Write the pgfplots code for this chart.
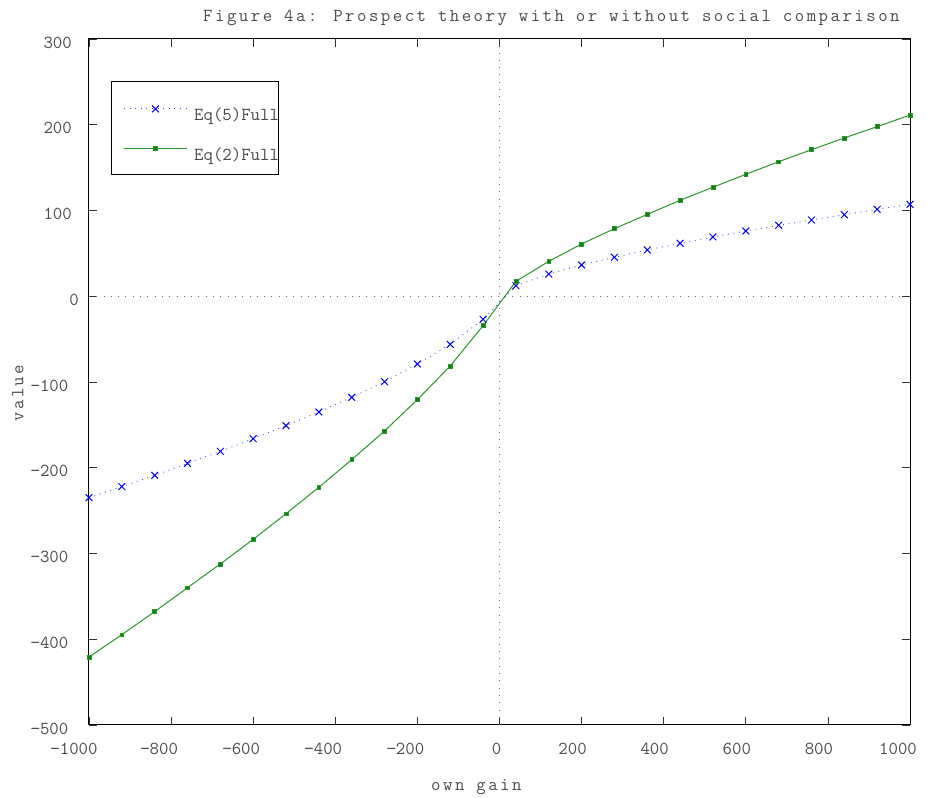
\documentclass[border=0pt]{standalone}
\usepackage{pgfplots}
\pgfplotsset{compat=1.18}
\usepackage{fontspec}
\setmainfont{Latin Modern Mono}
\newfontfamily\spacedmono[LetterSpace=13.6]{Latin Modern Mono}
\definecolor{txtgray}{RGB}{75,75,75}
\definecolor{ptgreen}{RGB}{40,150,40}
\definecolor{mkgreen}{RGB}{20,125,20}
\definecolor{zerogray}{RGB}{110,110,110}
\newcommand{\lfont}{\fontsize{18.3}{22}\selectfont}
\begin{document}
\begin{tikzpicture}
\path[use as bounding box] (-89pt,-73pt) rectangle (838pt,725pt);
\begin{axis}[
  scale only axis,
  width=821pt, height=686pt,
  xmin=-1000, xmax=1000, ymin=-500, ymax=300,
  clip=false,
  axis line style={line width=1pt, black},
  tick align=inside,
  major tick length=8pt,
  tick style={line width=0.8pt, black!80},
  every axis title shift=0pt,
  xtick={-1000,-800,-600,-400,-200,0,200,400,600,800,1000},
  xticklabels={{\hspace*{-30pt}−1000},{\hspace*{-24pt}−800},{\hspace*{-24pt}−600},{\hspace*{-24pt}−400},{\hspace*{-24pt}−200},{\hspace*{-6pt}0},{\hspace*{-18pt}200},{\hspace*{-18pt}400},{\hspace*{-18pt}600},{\hspace*{-18pt}800},{\hspace*{-24pt}1000}},
  ytick={-500,-400,-300,-200,-100,0,100,200,300},
  yticklabels={{−500\hspace*{14pt}},{−400\hspace*{14pt}},{−300\hspace*{14pt}},{−200\hspace*{14pt}},{−100\hspace*{14pt}},{0\hspace*{3.5pt}},{100\hspace*{10.5pt}},{200\hspace*{10.5pt}},{300\hspace*{10.5pt}}},
  xticklabel style={anchor=north, inner sep=0pt, yshift=-18pt, font=\lfont, text=txtgray},
  yticklabel style={anchor=east, inner sep=0pt, xshift=-6.5pt, yshift=-3.5pt, font=\lfont, text=txtgray},
  title={\spacedmono Figure 4a: Prospect theory with or without social comparison},
  title style={at={(rel axis cs:0.1389,1.0262)}, anchor=base west, inner sep=0pt, font=\lfont, text=txtgray},
  xlabel={\spacedmono own gain},
  xlabel style={at={(rel axis cs:0.4166,-0.0962)}, anchor=base west, inner sep=0pt, font=\lfont, text=txtgray},
  ylabel={\spacedmono value},
  ylabel style={at={(rel axis cs:-0.080,0.4417)}, anchor=base west, rotate=0, inner sep=0pt, font=\lfont, text=txtgray},
  legend style={at={(rel axis cs:0.0264,0.9388)}, anchor=north west, draw=black, line width=1pt, fill=white,
    inner xsep=12.3pt, inner ysep=24pt, row sep=34pt, column sep=6.7pt,
    nodes={inner sep=0pt, text height=0pt, text depth=0pt},
    font=\lfont, text=txtgray},
  legend cell align=left,
  legend image code/.code={\draw[mark repeat=2,mark phase=2,#1] plot coordinates {(0pt,0pt)(31.5pt,0pt)(63pt,0pt)};},
]
\addplot[forget plot, zerogray, line width=0.8pt, dash pattern=on 0.8pt off 6.5pt] coordinates {(0,-500) (0,300)};
\addplot[forget plot, zerogray, line width=0.8pt, dash pattern=on 0.8pt off 6.5pt] coordinates {(-1000,0) (980,0)};
\addplot[blue!70, line width=0.9pt, dash pattern=on 0.9pt off 4.7pt,
  mark=x, mark size=4.8pt, mark options={solid, blue, line width=1pt}] coordinates {
(-1000,-234.9) (-920,-222.0) (-840,-208.9) (-760,-194.9) (-680,-180.9) (-600,-166.1)
(-520,-150.9) (-440,-134.9) (-360,-117.9) (-280,-99.6) (-200,-79.0) (-120,-56.1) (-40,-26.9)
(40,12.3) (120,25.9) (200,36.5) (280,45.4) (360,54.0) (440,61.8) (520,69.1) (600,76.1)
(680,82.7) (760,88.9) (840,95.1) (920,101.4) (1000,107.2)
};
\addlegendentry{\raisebox{-12pt}{\makebox[72pt][l]{Eq(5)Full}}}
\addplot[ptgreen, line width=1pt,
  mark=square*, mark size=1.9pt, mark options={solid, fill=mkgreen, draw=ptgreen, line width=0.6pt}] coordinates {
(-1000,-420.7) (-920,-394.7) (-840,-367.8) (-760,-339.9) (-680,-312.2) (-600,-283.5)
(-520,-253.6) (-440,-222.8) (-360,-190.6) (-280,-157.1) (-200,-120.6) (-120,-81.3) (-40,-34.3)
(40,17.4) (120,40.7) (200,61.0) (280,78.8) (360,95.5) (440,111.9) (520,127.1) (600,142.2)
(680,156.9) (760,170.9) (840,184.6) (920,197.8) (1000,211.3)
};
\addlegendentry{\raisebox{-12pt}{\makebox[72pt][l]{Eq(2)Full}}}
\end{axis}
\end{tikzpicture}
\end{document}
